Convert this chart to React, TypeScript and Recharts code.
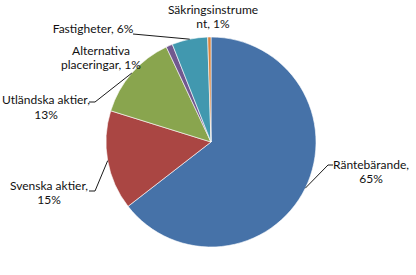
import React from "react";
import { PieChart, Pie, Cell } from "recharts";

// Allocation shares, in percent, clockwise from 12 o'clock
const categories = [
  "Räntebärande",
  "Svenska aktier",
  "Utländska aktier",
  "Alternativa placeringar",
  "Fastigheter",
  "Säkringsinstrument",
];
const shares = [64.5, 15.3, 13.2, 1.0, 5.5, 0.5];
const colors = ["#4672A8", "#AA4643", "#89A54E", "#71588F", "#4198AF", "#DB843D"];

// Label placement, Excel-style (text centre x, line baselines, leader elbow points)
type LabelSpot = {
  x: number;
  baselines: number[];
  breakAt: number | null;
  leader: [number, number][];
};
const labelSpots: LabelSpot[] = [
  { x: 371, baselines: [168.5, 182.5], breakAt: 14, leader: [[333, 165], [328, 165]] },
  { x: 49, baselines: [189.5, 204], breakAt: 16, leader: [[89, 191], [95, 191]] },
  { x: 46, baselines: [104, 118.5], breakAt: 18, leader: [[89, 102], [95, 102]] },
  { x: 101, baselines: [55, 68.5], breakAt: 12, leader: [] },
  { x: 93, baselines: [33], breakAt: null, leader: [[133, 34]] },
  { x: 213, baselines: [13.5, 28], breakAt: 16, leader: [] },
];

const RAD = Math.PI / 180;
const FONT = "Lato, 'Liberation Sans', sans-serif";

const rows = categories.map((name, i) => ({ name, value: shares[i] }));

function renderLabel(props: any) {
  const { cx, cy, midAngle, outerRadius, index } = props;
  const spot = labelSpots[index];
  const text = `${categories[index]}, ${Math.round(shares[index])}%`;
  const lines =
    spot.breakAt === null
      ? [text]
      : [text.slice(0, spot.breakAt).trimEnd(), text.slice(spot.breakAt).trimStart()];

  const ax = cx + outerRadius * Math.cos(-midAngle * RAD);
  const ay = cy + outerRadius * Math.sin(-midAngle * RAD);
  const pts = spot.leader.length ? [...spot.leader, [ax, ay]] : [];

  return (
    <g key={`lbl-${index}`}>
      {pts.length > 0 && (
        <polyline
          points={pts.map((p) => p.join(",")).join(" ")}
          fill="none"
          stroke="#1a1a1a"
          strokeWidth={1}
        />
      )}
      {lines.map((ln, j) => (
        <text
          key={j}
          x={spot.x}
          y={spot.baselines[j]}
          textAnchor="middle"
          fontFamily={FONT}
          fontSize={12}
          fill="#111"
        >
          {ln}
        </text>
      ))}
    </g>
  );
}

export default function App() {
  return (
    <div style={{ width: 416, height: 275, background: "#fff" }}>
      <style>{`body{margin:0}`}</style>
      <PieChart width={416} height={275}>
        <Pie
          data={rows}
          dataKey="value"
          nameKey="name"
          cx={206}
          cy={137}
          outerRadius={105}
          startAngle={90}
          endAngle={-270}
          stroke="#ffffff"
          strokeWidth={0.6}
          label={renderLabel}
          labelLine={false}
          isAnimationActive={false}
        >
          {rows.map((r, i) => (
            <Cell key={r.name} fill={colors[i]} />
          ))}
        </Pie>
      </PieChart>
    </div>
  );
}
